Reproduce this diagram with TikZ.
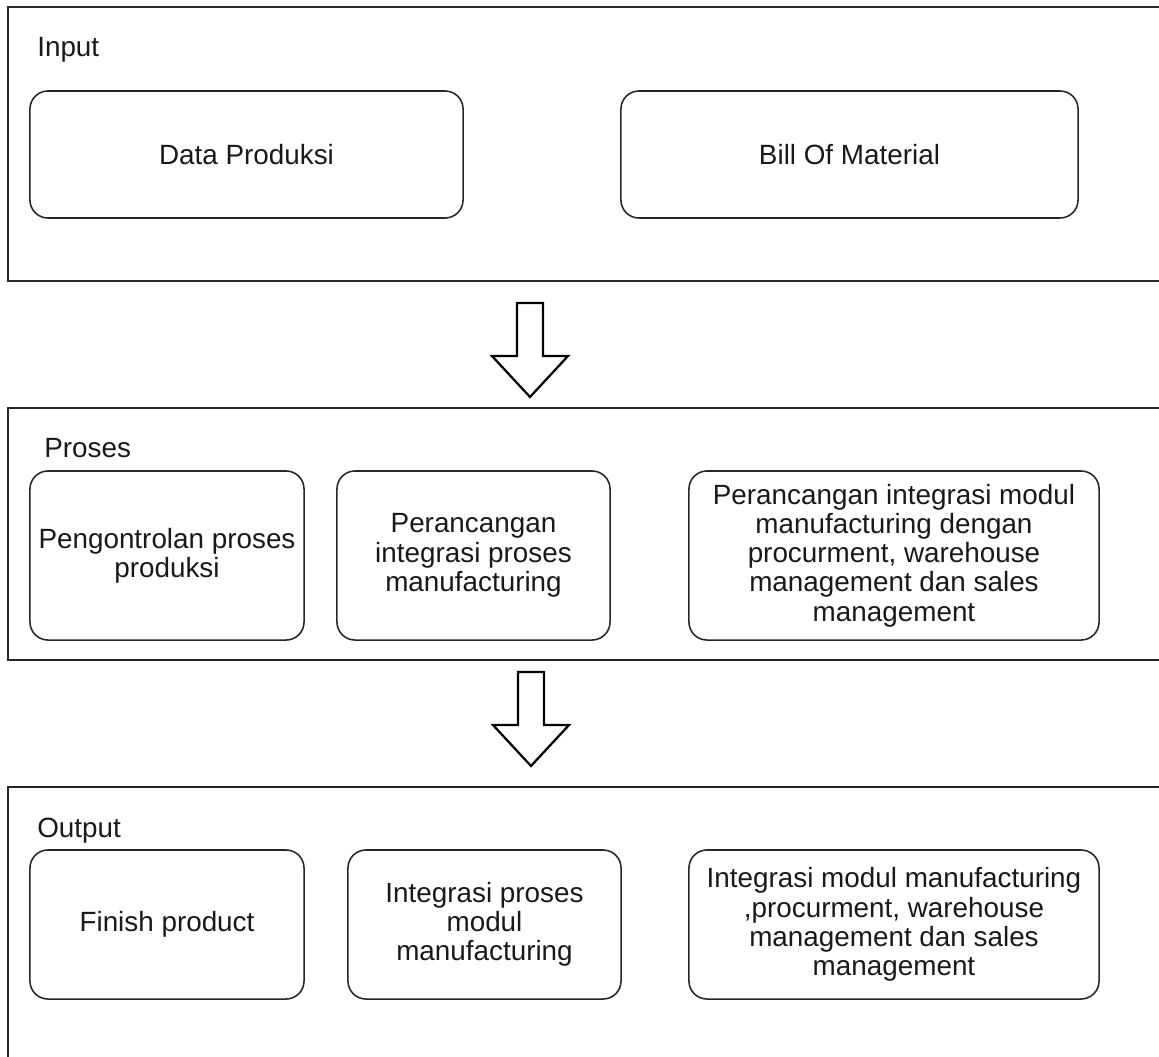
\documentclass[tikz,border=0pt]{standalone}
\usepackage{fontspec}
\setmainfont{Liberation Sans}
\usepackage{tikz}
\usetikzlibrary{positioning}
\newcommand{\diagfont}{\fontsize{19.8}{20.8}\selectfont}
\tikzset{
  panel/.style = {draw=black!85, line width=1.4pt},
  box/.style = {draw=black!85, line width=1.1pt, rounded corners=0.45cm,
    align=center, inner sep=0pt, font=\diagfont, text=black!90},
  inbox/.style = {box, minimum height=3.175cm},
  procbox/.style = {box, minimum height=4.225cm},
  outbox/.style = {box, minimum height=3.725cm},
  title/.style = {anchor=base west, inner sep=0pt, font=\diagfont, text=black!90},
  blockarrow/.style = {draw=black, line width=1.6pt, fill=white, line join=miter},
}

\begin{document}
\begin{tikzpicture}[x=0.025cm,y=-0.025cm]
  \useasboundingbox (0,0) rectangle (1159,1057);

  % panels (cut off at the right and bottom)
  \draw[panel] (1159,7) -- (8,7) -- (8,281) -- (1159,281);
  \draw[panel] (1159,408) -- (8,408) -- (8,660) -- (1159,660);
  \draw[panel] (1159,787) -- (8,787) -- (8,1057);

  % input
  \node[title] (input) at (37,57) {Input};
  \node[inbox, minimum width=10.825cm] (dataprod) at (246.5,154.5) {Data Produksi};
  \node[inbox, minimum width=11.425cm] (bom) at (849.5,154.5) {Bill Of Material};

  % proses
  \node[title] (proses) at (44,457) {Proses};
  \node[procbox, minimum width=6.85cm] (kontrol) at (167,555.5) {Pengontrolan proses\\produksi};
  \node[procbox, minimum width=6.825cm] (rancang) at (473.5,555.5) {Perancangan\\integrasi proses\\manufacturing};
  \node[procbox, minimum width=10.25cm] (rancangmod) at (894,555.5) {Perancangan integrasi modul\\manufacturing dengan\\procurment, warehouse\\management dan sales\\management};

  % output
  \node[title] (output) at (37,837) {Output};
  \node[outbox, minimum width=6.85cm] (finish) at (167,924.5) {Finish product};
  \node[outbox, minimum width=6.825cm] (integrasi) at (484.5,924.5) {Integrasi proses\\modul\\manufacturing};
  \node[outbox, minimum width=10.25cm] (integrasimod) at (894,924.5) {Integrasi modul manufacturing\\,procurment, warehouse\\management dan sales\\management};

  % block arrows between panels
  \coordinate (arr1) at (530,303);
  \coordinate (arr2) at (531,672);
  \foreach \a in {arr1,arr2}
    \draw[blockarrow] (\a) ++(-13,0) -- ++(26,0) -- ++(0,53) -- ++(25,0)
      -- ++(-38,41) -- ++(-38,-41) -- ++(25,0) -- cycle;
\end{tikzpicture}
\end{document}
